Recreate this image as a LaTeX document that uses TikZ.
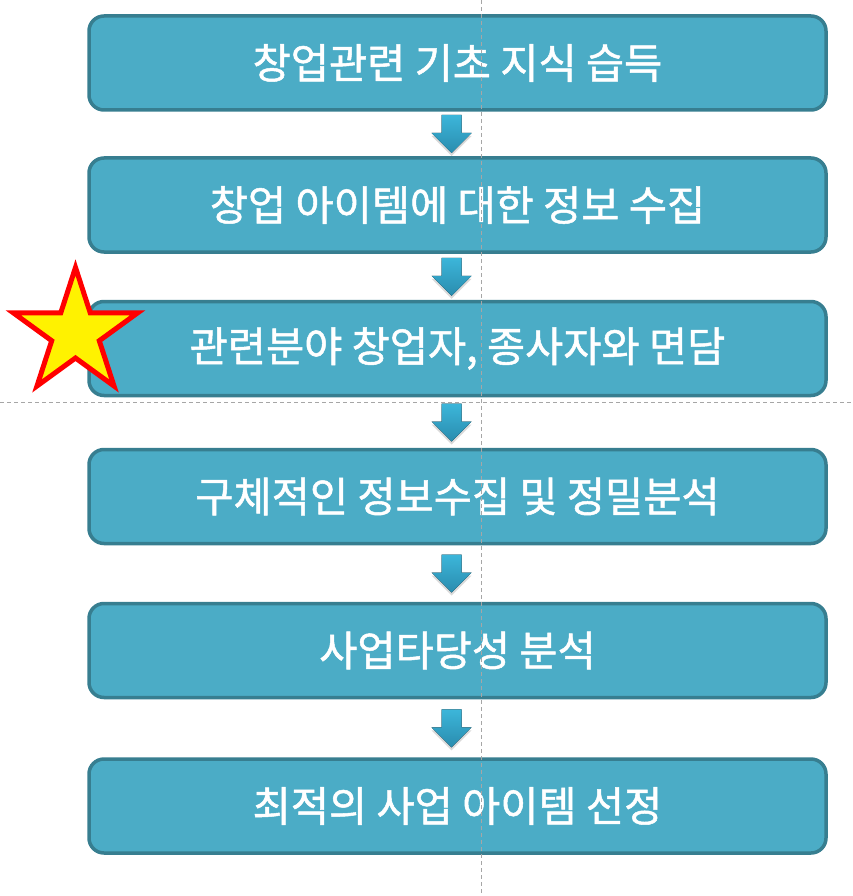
\documentclass[tikz,border=0pt]{standalone}
\usepackage{fontspec}
\newfontfamily\krfont[FakeBold=1.2]{Noto Sans CJK KR}
\usetikzlibrary{shapes.geometric,calc,shadows}
\definecolor{boxfill}{HTML}{4BACC6}
\definecolor{boxline}{HTML}{377E90}
\definecolor{arrtop}{HTML}{3CB6DA}
\definecolor{arrbot}{HTML}{2A8CAE}
\tikzset{
  downarr/.pic={
    \fill[top color=arrtop,bottom color=arrbot,
      drop shadow={opacity=0.3,shadow xshift=0pt,shadow yshift=-3pt}]
      (-10,-19) -- (10,-19) -- (10,-1) -- (20,-1) -- (0,19) -- (-20,-1) -- (-10,-1) -- cycle;
  }
}
\begin{document}
\begin{tikzpicture}[x=1pt,y=-1pt,
  stepbox/.style={draw=boxline,fill=boxfill,line width=3.5pt,rounded corners=15pt,
    minimum width=737pt,minimum height=94pt,inner sep=0pt,text=white,
    font=\krfont\fontsize{41.5}{48}\selectfont},
  guide/.style={gray!70,line width=1pt,dash pattern=on 4pt off 3pt}]
\useasboundingbox (0,0) rectangle (853,896);
\node[stepbox] (b1) at (457.5,63) {창업관련 기초 지식 습득};
\node[stepbox] (b2) at (457.5,205) {창업 아이템에 대한 정보 수집};
\node[stepbox] (b3) at (457.5,348.5) {관련분야 창업자, 종사자와 면담};
\node[stepbox] (b4) at (457.5,496.5) {구체적인 정보수집 및 정밀분석};
\node[stepbox] (b5) at (457.5,650.5) {사업타당성 분석};
\node[stepbox] (b6) at (457.5,806) {최적의 사업 아이템 선정};
% arrows between the steps
\foreach \a/\b in {b1/b2,b2/b3,b3/b4,b4/b5,b5/b6}
  \path ($(\a.south)!0.5!(\b.north)+(-6,0)$) pic {downarr};
% star mark
\node[star,star points=5,star point ratio=2.618,minimum size=131pt,inner sep=0pt,
  draw=red,fill=yellow,line width=5pt] (hot) at (75.5,333) {};
% guides
\draw[guide] (481,0) -- (481,896);
\draw[guide] (0,402) -- (853,402);
\end{tikzpicture}
\end{document}
